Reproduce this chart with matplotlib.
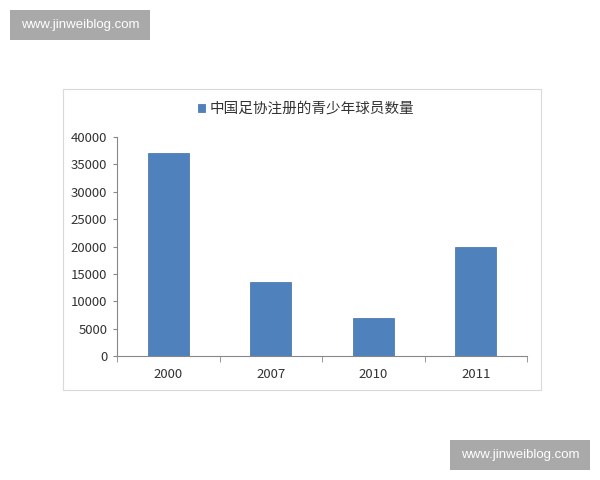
import matplotlib.pyplot as plt
from matplotlib.patches import Rectangle

plt.rcParams['font.family'] = ['Noto Sans CJK SC', 'DejaVu Sans']

# 数据
years = ['2000', '2007', '2010', '2011']
players = [37000, 13500, 6900, 20000]
series_name = '中国足协注册的青少年球员数量'
y_ticks = [0, 5000, 10000, 15000, 20000, 25000, 30000, 35000, 40000]

fig = plt.figure(figsize=(6, 4.8), dpi=100)

# 图表外框
fig.patches.append(Rectangle((63 / 600, 1 - 390 / 480), (541 - 63) / 600, (390 - 89) / 480,
                             transform=fig.transFigure, fill=False, edgecolor='#d9d9d9', lw=0.8))

ax = fig.add_axes([117 / 600, 1 - 356 / 480, (527 - 117) / 600, (356 - 137) / 480])
x = list(range(len(years)))
bars = ax.bar(x, players, width=0.4, color='#4f81bd', edgecolor='#3f6fa8', linewidth=0.5,
              label=series_name)

ax.set_xlim(-0.5, len(years) - 0.5)
ax.set_ylim(0, 40000)
ax.set_yticks(y_ticks)
ax.set_yticklabels([str(v) for v in y_ticks], fontsize=9.5, color='#333333')
ax.set_xticks(x)
ax.set_xticklabels(years, fontsize=9.5, color='#333333')
ax.tick_params(axis='x', length=0, pad=9)
ax.tick_params(axis='y', length=3, color='#888888', pad=4)
# 类别分隔刻度
ax.set_xticks([i - 0.5 for i in range(len(years) + 1)], minor=True)
ax.tick_params(axis='x', which='minor', length=4, color='#888888')

for side in ['top', 'right']:
    ax.spines[side].set_visible(False)
for side in ['left', 'bottom']:
    ax.spines[side].set_color('#888888')
    ax.spines[side].set_linewidth(0.8)

# 图例放在上方
fig.legend(loc='center', bbox_to_anchor=(306 / 600, 1 - 109 / 480), frameon=False,
           fontsize=10.5, handlelength=0.5, handleheight=0.5, handletextpad=0.3,
           labelcolor='#333333')

# 水印
for (x0, y0) in [(10, 10), (450, 440)]:
    fig.patches.append(Rectangle((x0 / 600, 1 - (y0 + 30) / 480), 140 / 600, 30 / 480,
                                 transform=fig.transFigure, facecolor='#a9a9a9', edgecolor='none'))
    fig.text((x0 + 70) / 600, 1 - (y0 + 15) / 480, 'www.jinweiblog.com', color='white',
             fontsize=9.5, ha='center', va='center', family='Liberation Sans')

fig.savefig('out.png', dpi=100)
